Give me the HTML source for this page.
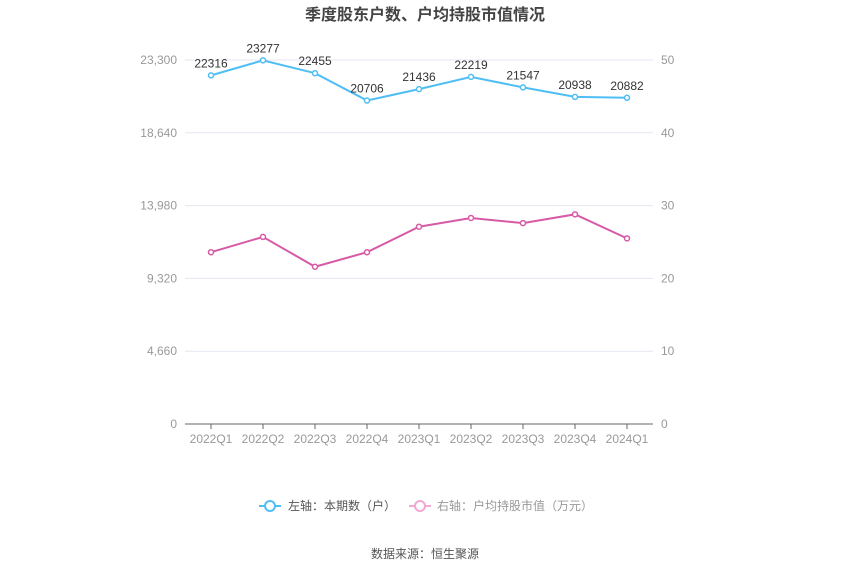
<!DOCTYPE html>
<html><head><meta charset="utf-8"><style>
body{margin:0;background:#fff;}
svg text{font-family:"Liberation Sans","Noto Sans CJK SC",sans-serif;}
</style></head><body>
<svg id="chart" width="850" height="575">
<text x="425" y="20" text-anchor="middle" font-size="16" font-weight="bold" fill="#444">季度股东户数、户均持股市值情况</text>
<g id="grid"></g><g id="axes"></g><g id="series"></g>
<g>
<line x1="259" y1="506" x2="281" y2="506" stroke="#4fbef5" stroke-width="2"/>
<circle cx="270" cy="506" r="5" fill="#fff" stroke="#4fbef5" stroke-width="2"/>
<text x="288" y="510" font-size="12" fill="#555">左轴：本期数（户）</text>
<line x1="409" y1="506" x2="431" y2="506" stroke="#f0a8d4" stroke-width="2"/>
<circle cx="420" cy="506" r="5" fill="#fff" stroke="#f0a8d4" stroke-width="2"/>
<text x="437" y="510" font-size="12" fill="#999">右轴：户均持股市值（万元）</text>
</g>
<text x="425" y="558" text-anchor="middle" font-size="12" fill="#555">数据来源：恒生聚源</text>
</svg>
<script>
const categories=["2022Q1","2022Q2","2022Q3","2022Q4","2023Q1","2023Q2","2023Q3","2023Q4","2024Q1"];
const holders=[22316,23277,22455,20706,21436,22219,21547,20938,20882];
const avgValue=[23.6,25.7,21.6,23.6,27.1,28.3,27.6,28.8,25.5];
const leftTicks=[0,4660,9320,13980,18640,23300];
const leftTickLabels=["0","4,660","9,320","13,980","18,640","23,300"];
const rightTicks=[0,10,20,30,40,50];
const L=185,R=653,T=60,B=424;
const ns="http://www.w3.org/2000/svg";
const band=(R-L)/categories.length;
const x=i=>L+band*(i+0.5);
const yL=v=>B-(v/23300)*(B-T);
const yR=v=>B-(v/50)*(B-T);
function mk(tag,attrs,parent){const e=document.createElementNS(ns,tag);for(const k in attrs)e.setAttribute(k,attrs[k]);document.getElementById(parent).appendChild(e);return e;}
leftTicks.forEach((t,i)=>{
  if(t>0){const g=mk('line',{x1:L,x2:R,y1:yL(t),y2:yL(t),stroke:'#e3e7f0','stroke-width':1},'grid');
  
  }
  const tx=mk('text',{x:L-8,y:yL(t)+4,'text-anchor':'end','font-size':12,fill:'#999'},'axes');tx.textContent=leftTickLabels[i];
  
  
});
rightTicks.forEach(t=>{
  const tx=mk('text',{x:R+8,y:yR(t)+4,'font-size':12,fill:'#999'},'axes');tx.textContent=t;
  
  
});
const ax=mk('line',{x1:L,x2:R,y1:B,y2:B,stroke:'#666','stroke-width':1},'axes');


categories.forEach((c,i)=>{
  mk('line',{x1:x(i),x2:x(i),y1:B,y2:B+5,stroke:'#666'},'axes');
  const tx=mk('text',{x:x(i),y:B+19,'text-anchor':'middle','font-size':12,fill:'#999'},'axes');tx.textContent=c;
  
  
});
function series(vals,yf,color,name,labels){
  const p=mk('polyline',{points:vals.map((v,i)=>x(i)+','+yf(v)).join(' '),fill:'none',stroke:color,'stroke-width':2},'series');
  
  
  vals.forEach((v,i)=>{
    const c=mk('circle',{cx:x(i),cy:yf(v),r:2.5,fill:'#fff',stroke:color,'stroke-width':1.5},'series');
    
    
    if(labels){const t=mk('text',{x:x(i),y:yf(v)-8,'text-anchor':'middle','font-size':12,fill:'#333'},'series');t.textContent=v;
    
    }
  });
}
series(holders,yL,'#4fbef5','holders',true);
series(avgValue,yR,'#d75aa6','avg-value',false);
</script>
</body></html>
